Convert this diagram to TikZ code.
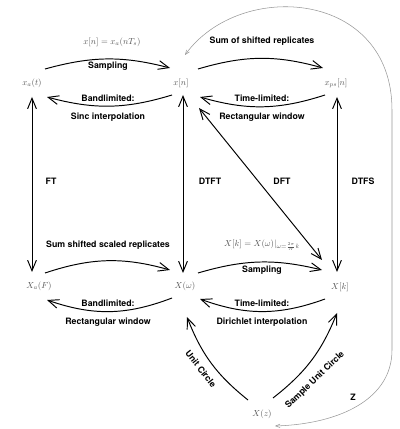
\documentclass[tikz,border=0pt]{standalone}
\usepackage{fontspec}
\setsansfont{TeX Gyre Heros}
\usetikzlibrary{arrows.meta}
\definecolor{sgray}{RGB}{85,85,85}
\definecolor{zgray}{RGB}{150,150,150}
\tikzset{fmap/.style={x=0.04cm,y=0.04cm,font=\sffamily\bfseries,>={Straight Barb[length=12pt,width=10pt]}},
  sig/.style={font=\normalfont,text=sgray,inner sep=1pt},
  tr/.style={line width=1.1pt},
  zt/.style={zgray,line width=0.6pt,{Straight Barb[length=5pt,width=4pt]}-{Straight Barb[length=5pt,width=4pt]}}}

\begin{document}
\begin{tikzpicture}[fmap]
    \useasboundingbox (0,0) rectangle (400,429);
    % signals and spectra
    \node[sig] (xa)  at (32,346)  {$x_a(t)$};
    \node[sig] (xn)  at (181,346) {$x[n]$};
    \node[sig] (xps) at (336,346) {$x_{ps}[n]$};
    \node[sig] (XaF) at (39,143)  {$X_a(F)$};
    \node[sig] (Xw)  at (185,143) {$X(\omega)$};
    \node[sig] (Xk)  at (340,142) {$X[k]$};
    \node[sig] (Xz)  at (262,15)  {$X(z)$};
    % transform pairs
    \draw[tr,<->] ([shift={(0,-14)}]xa.center) -- ([shift={(-7,14)}]XaF.center);
    \draw[tr,<->] ([shift={(2,-12)}]xn.center) -- ([shift={(-2,13)}]Xw.center);
    \draw[tr,<->] ([shift={(1,-14)}]xps.center) -- ([shift={(-3,15)}]Xk.center);
    \draw[tr,<->] ([shift={(18,-25)}]xn.center) -- ([shift={(-18,27)}]Xk.center);
    \foreach \t/\x in {FT/51,DTFT/210,DFT/282,DTFS/363} \node (lbl\t) at (\x,248) {\t};
    % time domain
    \draw[tr,->] ([shift={(13,14)}]xa.center) to[bend left=15] ([shift={(-11,15)}]xn.center);
    \draw[tr,->] ([shift={(-9,-12)}]xn.center) to[bend left=16] ([shift={(15,-14)}]xa.center);
    \draw[tr,->] ([shift={(17,14)}]xn.center) to[bend left=16] ([shift={(-13,15)}]xps.center);
    \draw[tr,->] ([shift={(-11,-12)}]xps.center) to[bend left=17] ([shift={(19,-14)}]xn.center);
    \node[sig] (fs) at (112,387) {$x[n] = x_a(nT_s)$};
    \node (smp1) at (108,363) {Sampling};
    \node (bl1)  at (108,331) {Bandlimited:};
    \node (sinc) at (108,312) {Sinc interpolation};
    \node (ssr)  at (262,388) {Sum of shifted replicates};
    \node (tl1)  at (262,331) {Time-limited:};
    \node (rw1)  at (262,312) {Rectangular window};
    % frequency domain
    \draw[tr,->] ([shift={(6,13)}]XaF.center) to[bend left=17] ([shift={(-15,16)}]Xw.center);
    \draw[tr,->] ([shift={(13,13)}]Xw.center) to[bend left=15] ([shift={(-18,17)}]Xk.center);
    \draw[tr,->] ([shift={(-13,-12)}]Xw.center) to[bend left=20] ([shift={(8,-14)}]XaF.center);
    \draw[tr,->] ([shift={(-15,-12)}]Xk.center) to[bend left=20] ([shift={(15,-13)}]Xw.center);
    \node (sssr) at (108,184) {Sum shifted scaled replicates};
    \node[sig] (fk) at (262,184) {$X[k] = X(\omega)|_{\omega=\frac{2\pi}{N}k}$};
    \node (smp2) at (262,159) {Sampling};
    \node (bl2)  at (108,126) {Bandlimited:};
    \node (rw2)  at (108,107) {Rectangular window};
    \node (tl2)  at (262,126) {Time-limited:};
    \node (dir)  at (262,107) {Dirichlet interpolation};
    % z-transform
    \draw[tr,->] ([shift={(-14,14)}]Xz.center) to[bend left=15] ([shift={(2,-31)}]Xw.center);
    \draw[tr,->] ([shift={(11,16)}]Xz.center) to[bend right=15] ([shift={(-3,-26)}]Xk.center);
    \node[rotate=-52] (uc)  at (201,60) {Unit Circle};
    \node[rotate=44]  (suc) at (315,49) {Sample Unit Circle};
    \draw[zt] ([shift={(4,28)}]xn.center) .. controls (240,450) and (392,439) .. (392,319)
        -- (392,79) .. controls (392,30) and (340,5) .. ([shift={(13,-12)}]Xz.center);
    \node (zlbl) at (353,32) {Z};
\end{tikzpicture}
\end{document}
